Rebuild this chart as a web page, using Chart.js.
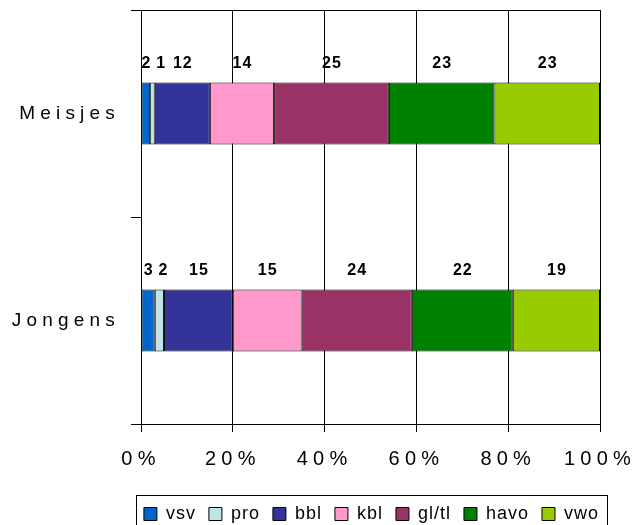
<!DOCTYPE html>
<html>
<head>
<meta charset="utf-8">
<script src="https://cdn.jsdelivr.net/npm/chart.js@4/dist/chart.umd.min.js"></script>
<style>
  body { margin: 0; background: #fff; }
  #wrap { width: 634px; height: 525px; }
</style>
</head>
<body>
<div id="wrap"><canvas id="mycanvas" width="634" height="525"></canvas></div>
<script>
var groepen = ['Meisjes', 'Jongens'];
var soorten = ['vsv', 'pro', 'bbl', 'kbl', 'gl/tl', 'havo', 'vwo'];
var vsv = [2, 3];
var pro = [1, 2];
var bbl = [12, 15];
var kbl = [14, 15];
var gltl = [25, 24];
var havo = [23, 22];
var vwo = [23, 19];
var kleuren = ['#0066CC', '#BFE3E6', '#333399', '#FF99CC', '#993366', '#008000', '#99CC00'];

var waarden = [vsv, pro, bbl, kbl, gltl, havo, vwo];
var datasets = [];
for (var i in soorten) {
    datasets.push({
        label: soorten[i],
        data: waarden[i],
        backgroundColor: kleuren[i],
        borderColor: '#000',
        borderWidth: 1,
        borderSkipped: false,
        categoryPercentage: 0.3,
        barPercentage: 1
    });
}

var FONT = '"Liberation Sans", Arial, sans-serif';
var ZAK = 6; // legend sits a bit lower, partly cut off like the original

// wide letter spacing on the axes, tighter in the legend
var spatie = {
    id: 'spatie',
    beforeInit: function (chart) {
        chart.ctx.letterSpacing = '5.2px';
        var lg = chart.legend;
        ['fit', 'draw'].forEach(function (f) {
            var orig = lg[f];
            lg[f] = function () {
                var c = chart.ctx;
                var oud = c.letterSpacing;
                c.letterSpacing = '1px';
                c.save();
                if (f === 'draw') c.translate(0, ZAK);
                var r = orig.apply(this, arguments);
                if (f === 'fit') this.height -= 2;
                c.restore();
                c.letterSpacing = oud;
                return r;
            };
        });
    },
    beforeUpdate: function (chart) { chart.ctx.letterSpacing = '5.2px'; },
    beforeDraw: function (chart) { chart.ctx.letterSpacing = '5.2px'; }
};

// numbers above the segments, pushed right when they collide
var labels = {
    id: 'labels',
    afterDatasetsDraw: function (chart) {
        var ctx = chart.ctx;
        ctx.save();
        ctx.letterSpacing = '1px';
        ctx.font = 'bold 16px ' + FONT;
        ctx.fillStyle = '#000';
        ctx.textAlign = 'left';
        ctx.textBaseline = 'middle';
        for (var j = 0; j < groepen.length; j++) {
            var rechts = -1000;
            for (var d = 0; d < chart.data.datasets.length; d++) {
                var bar = chart.getDatasetMeta(d).data[j];
                var txt = String(chart.data.datasets[d].data[j]);
                var w = ctx.measureText(txt).width - 1;
                var x = (bar.x + bar.base) / 2 - w / 2;
                if (x < rechts + 6) x = rechts + 6;
                ctx.fillText(txt, x, bar.y - bar.height / 2 - 19);
                rechts = x + w;
            }
        }
        ctx.restore();
    }
};

// top border of the plot and the frame round the legend
var kader = {
    id: 'kader',
    afterDraw: function (chart) {
        var ctx = chart.ctx;
        var a = chart.chartArea;
        ctx.save();
        ctx.strokeStyle = '#000';
        ctx.lineWidth = 1;
        ctx.beginPath();
        ctx.moveTo(a.left - 10, Math.round(a.top) + 0.5);
        ctx.lineTo(a.right + 0.5, Math.round(a.top) + 0.5);
        ctx.stroke();

        var boxes = chart.legend.legendHitBoxes;
        if (boxes && boxes.length) {
            var l = 1e9, r = -1e9, t = 1e9, b = -1e9;
            boxes.forEach(function (h) {
                l = Math.min(l, h.left); r = Math.max(r, h.left + h.width);
                t = Math.min(t, h.top); b = Math.max(b, h.top + h.height);
            });
            ctx.strokeRect(Math.round(l) - 7.5, Math.round(t) + ZAK - 9.5, Math.round(r - l) + 16, Math.round(b - t) + 30);
        }
        ctx.restore();
    }
};

var barGraph = new Chart(document.getElementById('mycanvas'), {
    type: 'bar',
    data: { labels: groepen, datasets: datasets },
    plugins: [spatie, labels, kader],
    options: {
        indexAxis: 'y',
        responsive: false,
        animation: false,
        layout: { padding: { top: 10, right: 22, bottom: 0, left: 0 } },
        scales: {
            x: {
                stacked: true,
                min: 0,
                max: 100,
                afterFit: function (scale) {
                    scale.paddingLeft = 0;
                    scale.paddingRight = 34;
                },
                ticks: {
                    stepSize: 20,
                    color: '#000',
                    padding: 15,
                    font: { family: FONT, size: 20 },
                    callback: function (v) { return v + '%'; }
                },
                grid: { color: '#000', lineWidth: 1, tickLength: 8 },
                border: { color: '#000', width: 1 }
            },
            y: {
                stacked: true,
                afterFit: function (scale) {
                    scale.width = 141;
                    scale.paddingTop = 0;
                    scale.paddingBottom = 0;
                },
                ticks: {
                    color: '#000',
                    padding: 11,
                    font: { family: FONT, size: 19 }
                },
                grid: { offset: true, drawOnChartArea: false, color: '#000', tickLength: 10 },
                border: { color: '#000', width: 1 }
            }
        },
        plugins: {
            tooltip: { enabled: false },
            legend: {
                position: 'bottom',
                align: 'end',
                labels: {
                    color: '#000',
                    boxWidth: 13,
                    boxHeight: 13,
                    padding: 13,
                    font: { family: FONT, size: 18 }
                }
            }
        }
    }
});
</script>
</body>
</html>
